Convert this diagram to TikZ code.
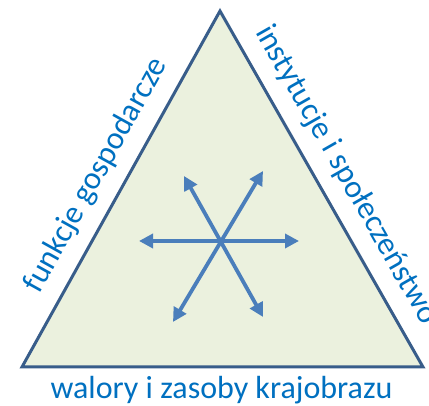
\documentclass[tikz,border=0pt]{standalone}
\usepackage{fontspec}
\setmainfont{Carlito}
\usetikzlibrary{arrows.meta}
\definecolor{triFill}{HTML}{EBF1DE}
\definecolor{triLine}{HTML}{385D8A}
\definecolor{arrowBlue}{HTML}{4A7EBB}
\definecolor{labelBlue}{HTML}{0070C0}
\tikzset{
  trianglebox/.style={fill=triFill, draw=triLine, line width=3pt, line join=miter},
  twoway/.style={draw=arrowBlue, line width=3.8pt, {Triangle[length=14pt,width=14pt]}-{Triangle[length=14pt,width=14pt]}},
  sidelabel/.style={text=labelBlue, inner sep=0pt, anchor=base, font=\fontsize{32}{38}\selectfont}
}
\begin{document}
\begin{tikzpicture}[x=1pt,y=1pt]
\useasboundingbox (0,0) rectangle (429,406);
% triangle corners
\coordinate (A) at (22,39);
\coordinate (B) at (220,395);
\coordinate (C) at (423,39);
\draw[trianglebox] (A) -- (B) -- (C) -- cycle;
% arrow ends
\coordinate (L) at (139,165);
\coordinate (R) at (299,165);
\coordinate (UL) at (184,230);
\coordinate (UR) at (263,235);
\coordinate (LL) at (173,84);
\coordinate (LR) at (263,89);
\draw[twoway] (L) -- (R);
\draw[twoway] (LL) -- (UR);
\draw[twoway] (UL) -- (LR);
% labels
\node[sidelabel, rotate=60.9] (left) at (103.5,226.7) {funkcje gospodarcze};
\node[sidelabel, rotate=-60.3] (right) at (338.9,226.9) {instytucje i społeczeństwo};
\node[sidelabel] (bottom) at (221.5,7) {walory i zasoby krajobrazu};
\end{tikzpicture}
\end{document}
